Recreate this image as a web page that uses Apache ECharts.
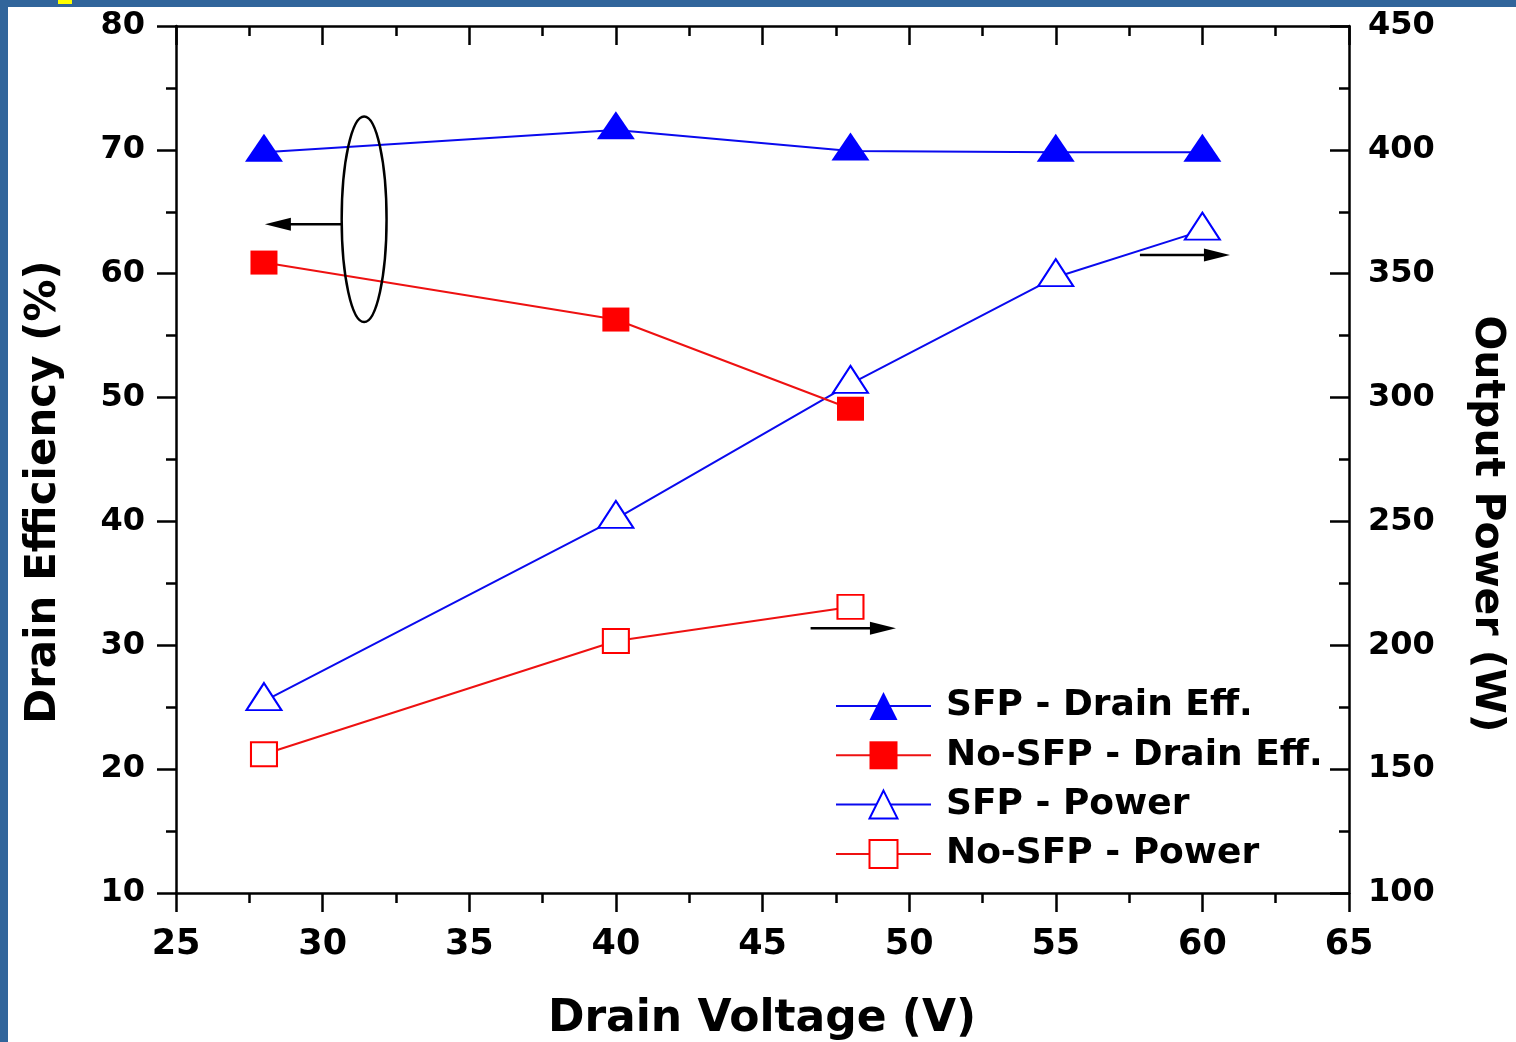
<!DOCTYPE html>
<html>
<head>
<meta charset="utf-8">
<script src="https://cdn.jsdelivr.net/npm/echarts@6/dist/echarts.min.js"></script>
<style>
  html, body { margin: 0; padding: 0; background: #fff; }
  #chart { position: absolute; left: 0; top: 0; width: 1516px; height: 1042px; }
  .frame-left { position: absolute; left: 0; top: 0; width: 8px; height: 1042px; background: #31659b; }
  .frame-top { position: absolute; left: 0; top: 0; width: 1516px; height: 7px; background: #31659b; }
  .tag { position: absolute; left: 58px; top: 0; width: 14px; height: 4px; background: #ffff00; }
</style>
</head>
<body>
<div id="chart"></div>
<div class="frame-left"></div>
<div class="frame-top"></div>
<div class="tag"></div>
<script>
// Drain voltage sweep (V)
const voltages = [28, 40, 48, 55, 60];
const noSfpVoltages = [28, 40, 48];

// Drain efficiency (%), left axis
const sfpEff = [69.8, 71.6, 69.9, 69.8, 69.8];
const noSfpEff = [60.9, 56.3, 49.1];

// Output power (W), right axis
const sfpPower = [177.5, 251, 305.5, 348.6, 367.4];
const noSfpPower = [156, 201.7, 215.5];

// Axis ranges
const xRange = { min: 25, max: 65, step: 5 };
const effRange = { min: 10, max: 80, step: 10 };
const powRange = { min: 100, max: 450, step: 50 };

const seriesNames = ['SFP - Drain Eff.', 'No-SFP - Drain Eff.', 'SFP - Power', 'No-SFP - Power'];

// Callouts that tie each curve group to its axis (data coordinates)
const callouts = {
  ellipse: { x: [30.65, 32.18], y: [56.1, 72.7] },
  arrows: [
    { axis: 0, from: [30.65, 64.0], to: [28.03, 64.0] },
    { axis: 1, from: [57.87, 357.6], to: [60.94, 357.6] },
    { axis: 1, from: [46.64, 206.9], to: [49.55, 206.9] }
  ]
};

const pairs = (xs, ys) => xs.map((x, i) => [x, ys[i]]);

const BLUE = '#0000ff';
const BLUE_LINE = '#0a0aee';
const RED = '#ff0000';
const RED_LINE = '#ee1111';
const FONT = 'DejaVu Sans';
const axisLine = { color: '#000', width: 2.5 };

const chart = echarts.init(document.getElementById('chart'), null, { renderer: 'canvas' });

const tickLabel = (size, margin) => ({
  margin: margin, color: '#000', fontFamily: FONT, fontWeight: 'bold', fontSize: size
});

const option = {
  animation: false,
  backgroundColor: '#fff',
  grid: { left: 176, right: 167, top: 26, bottom: 149, containLabel: false, outerBoundsMode: 'none' },
  xAxis: [
    {
      type: 'value', position: 'bottom', min: xRange.min, max: xRange.max, interval: xRange.step,
      axisLine: { show: true, onZero: false, lineStyle: axisLine },
      axisTick: { show: true, inside: false, length: 19, lineStyle: axisLine },
      minorTick: { show: true, splitNumber: 2, length: 10, lineStyle: axisLine },
      axisLabel: tickLabel(35, 34),
      splitLine: { show: false }, minorSplitLine: { show: false }
    },
    {
      type: 'value', position: 'top', min: xRange.min, max: xRange.max, interval: xRange.step,
      axisLine: { show: true, onZero: false, lineStyle: axisLine },
      axisTick: { show: true, inside: true, length: 19, lineStyle: axisLine },
      minorTick: { show: true, splitNumber: 2, length: 10, lineStyle: axisLine },
      axisLabel: { show: false },
      splitLine: { show: false }, minorSplitLine: { show: false }
    }
  ],
  yAxis: [
    {
      type: 'value', position: 'left', min: effRange.min, max: effRange.max, interval: effRange.step,
      axisLine: { show: true, onZero: false, lineStyle: axisLine },
      axisTick: { show: true, inside: false, length: 19, lineStyle: axisLine },
      minorTick: { show: true, splitNumber: 2, length: 10, lineStyle: axisLine },
      axisLabel: tickLabel(32, 31),
      splitLine: { show: false }, minorSplitLine: { show: false }
    },
    {
      type: 'value', position: 'right', min: powRange.min, max: powRange.max, interval: powRange.step,
      axisLine: { show: true, onZero: false, lineStyle: axisLine },
      axisTick: { show: true, inside: true, length: 19, lineStyle: axisLine },
      minorTick: { show: true, splitNumber: 2, length: 10, lineStyle: axisLine },
      axisLabel: tickLabel(32, 19),
      splitLine: { show: false }, minorSplitLine: { show: false }
    }
  ],
  legend: {
    orient: 'vertical', left: 835, top: 687, padding: 0,
    itemWidth: 95, itemHeight: 35, itemGap: 11.3,
    selectedMode: false,
    data: seriesNames,
    textStyle: { fontFamily: FONT, fontWeight: 'bold', fontSize: 36, color: '#000', lineHeight: 38, padding: [0, 0, 0, 10] }
  },
  series: [
    {
      name: seriesNames[0], type: 'line', xAxisIndex: 0, yAxisIndex: 0,
      data: pairs(voltages, sfpEff),
      symbol: 'triangle', symbolSize: [38, 28], symbolOffset: [0, -4.7],
      itemStyle: { color: BLUE, borderWidth: 0 },
      lineStyle: { color: BLUE_LINE, width: 2 }, z: 4
    },
    {
      name: seriesNames[1], type: 'line', xAxisIndex: 0, yAxisIndex: 0,
      data: pairs(noSfpVoltages, noSfpEff),
      symbol: 'rect', symbolSize: [27, 24],
      itemStyle: { color: RED, borderWidth: 0 },
      lineStyle: { color: RED_LINE, width: 2 }, z: 4
    },
    {
      name: seriesNames[2], type: 'line', xAxisIndex: 0, yAxisIndex: 1,
      data: pairs(voltages, sfpPower),
      symbol: 'emptyTriangle', symbolSize: [35, 27], symbolOffset: [0, -4.5],
      itemStyle: { color: BLUE, borderWidth: 2 },
      lineStyle: { color: BLUE_LINE, width: 2 }, z: 3
    },
    {
      name: seriesNames[3], type: 'line', xAxisIndex: 0, yAxisIndex: 1,
      data: pairs(noSfpVoltages, noSfpPower),
      symbol: 'emptyRect', symbolSize: [26, 24],
      itemStyle: { color: RED, borderWidth: 2 },
      lineStyle: { color: RED_LINE, width: 2 }, z: 3
    }
  ]
};

chart.setOption(option);

// Axis titles and callouts, placed through the axes' own scales
const toPx = (axis, pt) => chart.convertToPixel({ xAxisIndex: 0, yAxisIndex: axis }, pt);

function arrow(a) {
  const p0 = toPx(a.axis, a.from);
  const p1 = toPx(a.axis, a.to);
  const dir = Math.sign(p1[0] - p0[0]);
  const headLen = 26, headHalf = 6.5;
  const baseX = p1[0] - dir * headLen;
  return [
    { type: 'line', z: 10, shape: { x1: p0[0], y1: p0[1], x2: baseX + dir * 2, y2: p1[1] }, style: { stroke: '#000', lineWidth: 2.5 } },
    { type: 'polygon', z: 10, shape: { points: [[p1[0], p1[1]], [baseX, p1[1] - headHalf], [baseX, p1[1] + headHalf]] }, style: { fill: '#000' } }
  ];
}

const e0 = toPx(0, [callouts.ellipse.x[0], callouts.ellipse.y[1]]);
const e1 = toPx(0, [callouts.ellipse.x[1], callouts.ellipse.y[0]]);

const titleStyle = (text, size) => ({
  text: text, font: 'bold ' + size + 'px "' + FONT + '"', fill: '#000',
  align: 'center', verticalAlign: 'middle', textAlign: 'center', textVerticalAlign: 'middle'
});

const graphics = [
  {
    type: 'ellipse', z: 10,
    shape: { cx: (e0[0] + e1[0]) / 2, cy: (e0[1] + e1[1]) / 2, rx: (e1[0] - e0[0]) / 2, ry: (e1[1] - e0[1]) / 2 },
    style: { fill: null, stroke: '#000', lineWidth: 2.5 }
  },
  { type: 'text', x: 44, y: 492, rotation: Math.PI / 2, style: titleStyle('Drain Efficiency (%)', 42) },
  { type: 'text', x: 1487, y: 524, rotation: -Math.PI / 2, style: titleStyle('Output Power (W)', 41) },
  { type: 'text', x: 762, y: 1020, style: titleStyle('Drain Voltage (V)', 44) }
];
callouts.arrows.forEach(a => arrow(a).forEach(g => graphics.push(g)));

chart.setOption({ graphic: graphics });
</script>
</body>
</html>
